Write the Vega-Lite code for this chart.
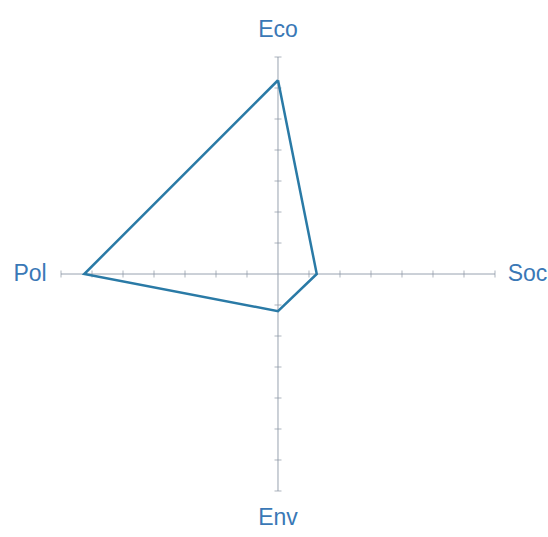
{
  "$schema": "https://vega.github.io/schema/vega-lite/v6.json",
  "width": 548,
  "height": 537,
  "padding": 0,
  "autosize": {"type": "none"},
  "background": "white",
  "config": {"view": {"stroke": null}},
  "datasets": {
    "axes": [
      {"axis": "h", "x": -7, "y": 0, "x2": 7, "y2": 0},
      {"axis": "v", "x": 0, "y": -7, "x2": 0, "y2": 7}
    ],
    "hticks": [
      {"pos": -7}, {"pos": -6}, {"pos": -5}, {"pos": -4}, {"pos": -3}, {"pos": -2}, {"pos": -1},
      {"pos": 1}, {"pos": 2}, {"pos": 3}, {"pos": 4}, {"pos": 5}, {"pos": 6}, {"pos": 7}
    ],
    "scores": [
      {"dim": "Eco", "order": 0, "x": 0, "y": 6.25},
      {"dim": "Soc", "order": 1, "x": 1.25, "y": 0},
      {"dim": "Env", "order": 2, "x": 0, "y": -1.2},
      {"dim": "Pol", "order": 3, "x": -6.25, "y": 0},
      {"dim": "Eco", "order": 4, "x": 0, "y": 6.25}
    ],
    "labels": [
      {"label": "Eco", "x": 0, "y": 7.87},
      {"label": "Soc", "x": 8.05, "y": 0},
      {"label": "Env", "x": 0, "y": -7.87},
      {"label": "Pol", "x": -8.0, "y": 0}
    ]
  },
  "resolve": {"scale": {"x": "shared", "y": "shared"}},
  "layer": [
    {
      "data": {"name": "axes"},
      "mark": {"type": "rule", "color": "#98a2b0", "strokeWidth": 1},
      "encoding": {
        "x": {"field": "x", "type": "quantitative", "scale": {"domain": [-8.968, 8.71], "nice": false, "zero": false}, "axis": null},
        "y": {"field": "y", "type": "quantitative", "scale": {"domain": [-8.484, 8.839], "nice": false, "zero": false}, "axis": null},
        "x2": {"field": "x2"},
        "y2": {"field": "y2"}
      }
    },
    {
      "data": {"name": "hticks"},
      "mark": {"type": "tick", "orient": "vertical", "color": "#8a94a2", "size": 7, "thickness": 1},
      "encoding": {
        "x": {"field": "pos", "type": "quantitative"},
        "y": {"datum": 0, "type": "quantitative"}
      }
    },
    {
      "data": {"name": "hticks"},
      "mark": {"type": "tick", "orient": "horizontal", "color": "#8a94a2", "size": 7, "thickness": 1},
      "encoding": {
        "x": {"datum": 0, "type": "quantitative"},
        "y": {"field": "pos", "type": "quantitative"}
      }
    },
    {
      "data": {"name": "scores"},
      "mark": {"type": "line", "color": "#2a7aa6", "strokeWidth": 2.5, "strokeJoin": "miter"},
      "encoding": {
        "x": {"field": "x", "type": "quantitative"},
        "y": {"field": "y", "type": "quantitative"},
        "order": {"field": "order", "type": "quantitative"}
      }
    },
    {
      "data": {"name": "labels"},
      "mark": {"type": "text", "font": "Liberation Sans", "fontSize": 23, "color": "#3a78b6", "align": "center", "baseline": "middle"},
      "encoding": {
        "x": {"field": "x", "type": "quantitative"},
        "y": {"field": "y", "type": "quantitative"},
        "text": {"field": "label"}
      }
    }
  ]
}
